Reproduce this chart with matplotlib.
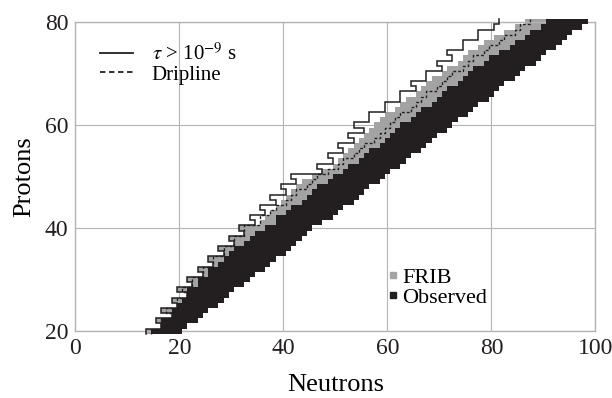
import numpy as np
import matplotlib
matplotlib.use('Agg')
import matplotlib.pyplot as plt
from matplotlib.lines import Line2D

# Proton number of each row of the chart
protons = list(range(20, 81))

# Left edge (neutron number) of the tau > 1e-9 s region, per row
tau_left = [14, 17, 16, 19, 17, 20, 19, 22, 20, 23, 22, 25, 24, 27, 26, 29, 28, 31, 30, 33, 32,
            35, 34, 37, 36, 39, 38, 41, 40, 43, 42, 48, 47, 50, 49, 52, 51, 54, 53, 56, 54,
            57, 57, 60, 60, 63, 63, 66, 65, 68, 68, 71, 70, 73, 72, 75, 75, 78, 78, 81, 82]

# First neutron number reachable at FRIB (grey)
frib_left = [14, 17, 16, 19, 17, 20, 19, 22, 20, 23, 22, 25, 24, 27, 26, 29, 28, 31, 30, 33, 32,
             36, 37, 38, 39, 40, 41, 42, 43, 44, 46, 48, 50, 51, 52, 53, 54, 55, 56, 57, 58,
             59, 60, 62, 63, 64, 66, 67, 68, 69, 71, 72, 74, 75, 76, 78, 79, 81, 83, 85, 87]

# First observed neutron number (black)
obs_left = [15, 17, 17, 19, 19, 20, 21, 22, 22, 24, 24, 26, 26, 28, 29, 30, 31, 33, 34, 35, 37,
            39, 39, 41, 42, 44, 45, 46, 47, 49, 50, 52, 53, 55, 56, 57, 59, 60, 61, 62, 63,
            65, 66, 67, 69, 70, 71, 72, 74, 75, 76, 77, 79, 80, 82, 84, 85, 87, 88, 90, 91]

# Last neutron number shown in each row
right_edge = [20, 21, 23, 24, 25, 27, 28, 29, 30, 32, 33, 34, 36, 37, 38, 40, 41, 42, 43, 44, 45,
              47, 49, 50, 51, 53, 54, 55, 56, 58, 59, 60, 62, 63, 64, 66, 67, 68, 69, 71, 72,
              73, 75, 76, 77, 79, 80, 81, 82, 84, 85, 86, 88, 89, 90, 92, 93, 94, 95, 97, 98]

# Proton dripline position per row
drip_left = [15, 17, 17, 19, 18, 20, 20, 22, 21, 23, 23, 25, 25, 27, 27, 29, 29, 31, 31, 33, 33,
             36, 36, 38, 39, 41, 42, 43, 45, 46, 47, 49, 51, 52, 54, 55, 56, 58, 59, 60, 61,
             62, 63, 65, 66, 67, 68, 70, 71, 72, 73, 75, 76, 77, 79, 80, 82, 83, 85, 86, 88]

GREY = '#a3a3a3'
BLACK = '#231f20'
GRID = '#b4b4b4'


def step_edge(rows, edges):
    # left boundary of a region as a staircase, top row first
    xs, ys = [], []
    for z, n in sorted(zip(rows, edges), reverse=True):
        xs += [n - 0.5, n - 0.5]
        ys += [z + 0.5, z - 0.5]
    return xs, ys


plt.rcParams['font.family'] = ['Liberation Serif', 'DejaVu Serif']
plt.rcParams['mathtext.fontset'] = 'stix'

fig = plt.figure(figsize=(6.12, 3.98), dpi=100)
ax = fig.add_axes([0.123, 0.168, 0.850, 0.777])

z = np.array(protons)
frib = np.array(frib_left)
obs = np.array(obs_left)
right = np.array(right_edge)

ax.barh(z, obs - frib, left=frib - 0.5, height=1.0, color=GREY, linewidth=0, zorder=2, clip_on=False)
ax.barh(z, right - obs + 1, left=obs - 0.5, height=1.0, color=BLACK, linewidth=0, zorder=3, clip_on=False)

tx, ty = step_edge(protons, tau_left)
ax.plot(tx, ty, color=BLACK, lw=1.1, zorder=4, solid_joinstyle='miter', clip_on=False)

dx, dy = step_edge(protons, drip_left)
ax.plot(dx, dy, color=BLACK, lw=1.0, ls=(0, (2.0, 1.5)), zorder=4, clip_on=False)

ax.set_xlim(0, 100)
ax.set_ylim(20, 80)
ax.set_xticks([0, 20, 40, 60, 80, 100])
ax.set_yticks([20, 40, 60, 80])
ax.tick_params(length=0, labelsize=17, pad=5, colors='#231f20')
ax.grid(True, color=GRID, lw=0.8, zorder=0)
ax.set_axisbelow(True)
for sp in ax.spines.values():
    sp.set_color(GRID)
    sp.set_linewidth(1.0)

ax.set_xlabel('Neutrons', fontsize=19, labelpad=11)
ax.set_ylabel('Protons', fontsize=19, labelpad=7)

line_handles = [Line2D([], [], color=BLACK, lw=1.3),
                Line2D([], [], color=BLACK, lw=1.3, ls=(0, (3, 2)))]
leg1 = ax.legend(line_handles, [r'$\tau$ > 10$^{-9}$ s', 'Dripline'], loc='upper left',
                 bbox_to_anchor=(0.047, 0.93), frameon=False, fontsize=15,
                 borderpad=0, borderaxespad=0,
                 handlelength=1.6, handletextpad=0.9, labelspacing=0.0)
ax.add_artist(leg1)

box_handles = [Line2D([], [], marker='s', ls='none', color=GREY, markersize=4),
               Line2D([], [], marker='s', ls='none', color=BLACK, markersize=4)]
ax.legend(box_handles, ['FRIB', 'Observed'], loc='lower left',
          bbox_to_anchor=(0.601, 0.074), frameon=False, fontsize=16,
          borderpad=0, borderaxespad=0,
          handlelength=0.5, handletextpad=0.15, labelspacing=0.0)

fig.savefig('out.png', dpi=100)
